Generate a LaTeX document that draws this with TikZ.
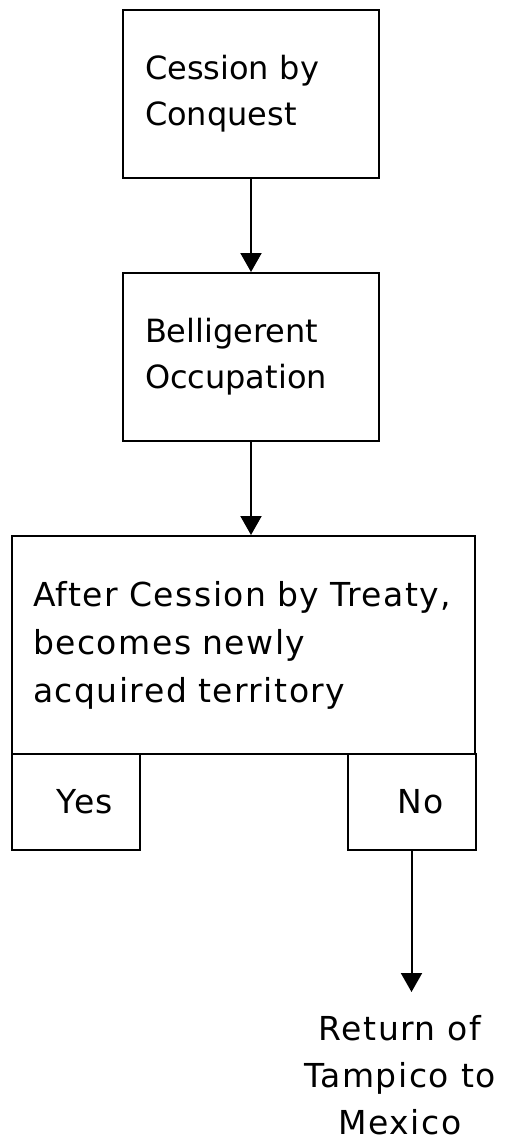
\documentclass[tikz,border=0pt]{standalone}
\usepackage{fontspec}
\setmainfont{DejaVu Sans}
\newfontfamily\spacedfont[LetterSpace=4.6]{DejaVu Sans}
\usetikzlibrary{arrows.meta}

\begin{document}
\begin{tikzpicture}[
    stage/.style={rectangle, draw, line width=1pt, text width=106pt, align=left, inner xsep=11pt, minimum height=84pt, font=\fontsize{16}{23}\selectfont},
    decision/.style={rectangle, draw, line width=1pt, text width=210.5pt, align=left, inner xsep=10.5pt, minimum height=109pt, font=\spacedfont\fontsize{16.5}{24}\selectfont},
    branch/.style={rectangle, draw, line width=1pt, minimum width=64pt, minimum height=48pt, font=\spacedfont\fontsize{16.5}{24}\selectfont},
    result/.style={align=center, inner sep=0pt, font=\spacedfont\fontsize{16.5}{23.5}\selectfont},
    flow/.style={-{Triangle[width=10.5pt,length=9.5pt]}, line width=1pt}
]
\useasboundingbox (0pt,0pt) rectangle (252pt,-570pt);

% Stages
\node[stage] (conquest) at (125.5pt,-47pt) {Cession by\\Conquest};
\node[stage] (occupation) at (125.5pt,-178.5pt) {Belligerent\\Occupation};
\node[decision] (treaty) at (121.75pt,-322.5pt) {\mbox{After Cession by Treaty,}\\becomes newly\\acquired territory};

% Branches
\node[branch] (yes) at (38pt,-401pt) {\hspace*{9pt}Yes};
\node[branch] (no) at (205.75pt,-401pt) {\hspace*{9pt}No};

% Outcome
\node[result, anchor=north] (return) at (200pt,-507.5pt) {Return of\\Tampico to\\Mexico};

% Flows
\draw[flow] (conquest) -- (occupation);
\draw[flow] (occupation.south) -- (occupation.south |- treaty.north);
\draw[flow, shorten >=11.5pt] (no.south) -- (no.south |- return.north);

\end{tikzpicture}
\end{document}
